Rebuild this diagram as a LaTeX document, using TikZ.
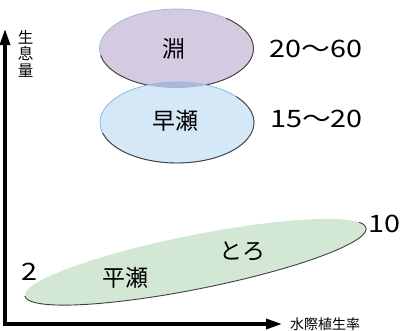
\documentclass[tikz,border=0pt]{standalone}
\usepackage{fontspec}
\newfontfamily\jp{Noto Sans CJK JP}
\newfontfamily\numf[FakeStretch=1.2]{Noto Sans CJK JP}
\usetikzlibrary{arrows.meta}
\definecolor{fuchiC}{HTML}{D5CBE0}
\definecolor{hayaseC}{HTML}{D5E8F8}
\definecolor{overC}{HTML}{A9B7DB}
\definecolor{hiraC}{HTML}{D3E8D4}
\definecolor{hiC}{HTML}{9FB4DA}
\tikzset{
  edge/.style={draw=black!75, line width=0.9pt},
  light/.style={draw=#1, line width=0.7pt},
  lbl/.style={font=\jp\fontsize{23}{23}\selectfont, inner sep=0pt},
  num/.style={font=\numf\fontsize{24}{24}\selectfont, inner sep=0pt},
  ax/.style={font=\jp\fontsize{14}{14}\selectfont, inner sep=0pt},
  axisline/.style={line width=4.5pt, line join=miter, {Triangle[width=9.5pt,length=17pt]}-{Triangle[width=9.5pt,length=17pt]}}
}
\begin{document}
\begin{tikzpicture}[x=1pt,y=-1pt]
\useasboundingbox (0,0) rectangle (402,330);
% upper ellipse
\fill[fuchiC] (176.5,48.5) ellipse [x radius=77, y radius=39.5];
\draw[light=hiC] (176.5,48.5) ellipse [x radius=77, y radius=39.5];
\draw[edge] (176.5,48.5) ++(-50:77 and 39.5) arc[start angle=-50, end angle=170, x radius=77, y radius=39.5];
% lower ellipse
\fill[hayaseC] (177,122.5) ellipse [x radius=77, y radius=40.5];
\draw[light=cyan!60!blue!50] (177,122.5) ellipse [x radius=77, y radius=40.5];
\draw[edge] (177,122.5) ++(-40:77 and 40.5) arc[start angle=-40, end angle=165, x radius=77, y radius=40.5];
% overlap
\begin{scope}
\clip (176.5,48.5) ellipse [x radius=77, y radius=39.5];
\fill[overC] (177,122.5) ellipse [x radius=77, y radius=40.5];
\end{scope}
% green ellipse
\begin{scope}[shift={(195.5,262)}, rotate=11.28]
\fill[hiraC] (0,0) ellipse [x radius=174, y radius=27];
\draw[edge] (-15:174 and 27) arc[start angle=-15, end angle=180, x radius=174, y radius=27];
\end{scope}
% axes
\coordinate (ytip) at (5,28);
\coordinate (o) at (5,324);
\coordinate (xtip) at (283,324);
\draw[axisline] (ytip) -- (o) -- (xtip);
% labels
\node[lbl] (fuchiT) at (174,49) {淵};
\node[lbl] (hayaseT) at (175.5,121) {早瀬};
\node[num] (n1) at (316,49) {20～60};
\node[num] (n2) at (316.5,119) {15～20};
\node[lbl] (hiraT) at (125,277.5) {平瀬};
\node[lbl] (toroT) at (242.5,251.5) {とろ};
\node[num] (n3) at (29.5,272) {2};
\node[num, anchor=west] (n4) at (368,224) {10};
\node[ax, anchor=west] (xl) at (290,324.5) {水際植生率};
\node[font=\jp\fontsize{15.5}{16.5}\selectfont, inner sep=0pt, align=center] (yl) at (25.5,53.5) {生\\息\\量};
\end{tikzpicture}
\end{document}
